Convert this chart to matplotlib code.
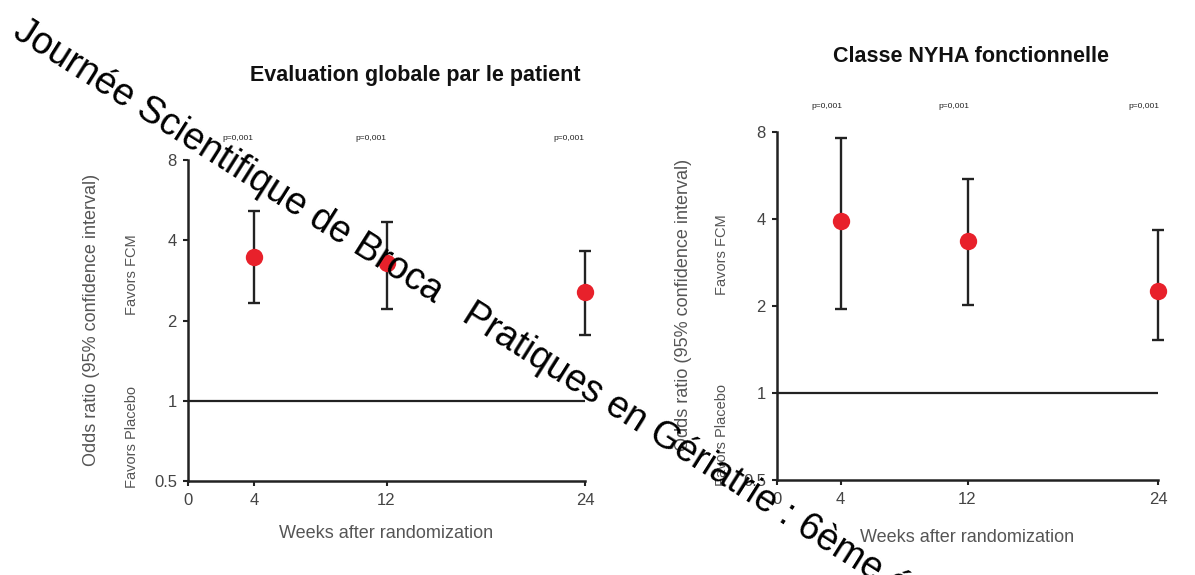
import numpy as np
import matplotlib.pyplot as plt

plt.rcParams['font.family'] = ['Liberation Sans', 'DejaVu Sans']

W, H = 1195, 575

weeks = [4, 12, 24]
p_labels = ["p=0,001", "p=0,001", "p=0,001"]

# Evaluation globale par le patient
eval_or = [3.45, 3.3, 2.55]
eval_lo = [2.32, 2.2, 1.77]
eval_hi = [5.15, 4.7, 3.65]

# Classe NYHA fonctionnelle
nyha_or = [3.95, 3.35, 2.25]
nyha_lo = [1.95, 2.02, 1.52]
nyha_hi = [7.6, 5.5, 3.65]

yticks = [0.5, 1, 2, 4, 8]
ytick_labels = ["0.5", "1", "2", "4", "8"]
xticks = [0, 4, 12, 24]

dark = "#222222"
grey = "#555555"
red = "#e8212b"


def px(x, y):
    # pixel position (from top-left) -> figure fraction
    return x / W, 1 - y / H


def panel(fig, x0, x1, ytop, ybot, title, title_xy, pval_y, pval_dx,
          yl_x, yl_y, fcm_x, fcm_y, plc_y, xl_y, vals, lo, hi):
    ax = fig.add_axes([x0 / W, 1 - ybot / H, (x1 - x0) / W, (ybot - ytop) / H])
    ax.set_yscale('log', base=2)
    ax.set_xlim(0, 24)
    ax.set_ylim(0.5, 8)
    vals = np.array(vals)
    err = np.array([vals - np.array(lo), np.array(hi) - vals])
    ax.errorbar(weeks, vals, yerr=err, fmt='none', ecolor=dark, elinewidth=1.7,
                capsize=4.5, capthick=1.7, clip_on=False, zorder=3)
    ax.plot(weeks, vals, 'o', color=red, ms=12.5, mec='none', clip_on=False, zorder=4)
    ax.axhline(1, color=dark, lw=1.6, zorder=2)
    for s in ['top', 'right']:
        ax.spines[s].set_visible(False)
    for s in ['left', 'bottom']:
        ax.spines[s].set_linewidth(1.8)
        ax.spines[s].set_color(dark)
    ax.set_yticks(yticks)
    ax.set_yticklabels(ytick_labels)
    ax.minorticks_off()
    ax.set_xticks(xticks)
    ax.set_xticklabels([str(t) for t in xticks])
    ax.tick_params(axis='both', direction='out', length=3.5, width=1.5, color=dark,
                   labelsize=12, labelcolor="#444444")
    ax.tick_params(axis='y', pad=4.5)
    ax.tick_params(axis='x', pad=5)

    fig.text(*px(*title_xy), title, ha='center', va='center', fontsize=15.5,
             fontweight='bold', color="#111111")
    for w, p in zip(weeks, p_labels):
        xp = x0 + (x1 - x0) * w / 24 - pval_dx
        fig.text(*px(xp, pval_y), p, ha='center', va='center', fontsize=6, color="#222222")
    fig.text(*px(yl_x, yl_y), "Odds ratio (95% confidence interval)", rotation=90,
             ha='center', va='center', fontsize=13, color=grey)
    fig.text(*px(fcm_x, fcm_y), "Favors FCM", rotation=90, ha='center', va='center',
             fontsize=10.5, color=grey)
    fig.text(*px(fcm_x, plc_y), "Favors Placebo", rotation=90, ha='center', va='center',
             fontsize=10.5, color=grey)
    fig.text(*px((x0 + x1) / 2, xl_y), "Weeks after randomization", ha='center',
             va='center', fontsize=13, color=grey)
    return ax


fig = plt.figure(figsize=(W / 100, H / 100), dpi=100)

panel(fig, 188, 585, 160, 481, "Evaluation globale par le patient", (415, 75),
      138, 16, 92, 320, 132, 275, 437, 533, eval_or, eval_lo, eval_hi)
panel(fig, 777, 1158, 132, 480, "Classe NYHA fonctionnelle", (971, 57),
      107, 14, 684, 305, 722, 255, 435, 538, nyha_or, nyha_lo, nyha_hi)

fig.text(*px(11, 36), "Journée Scientifique de Broca   Pratiques en Gériatrie : 6ème édition",
         rotation=-32.3, rotation_mode='anchor', ha='left', va='baseline',
         fontsize=27, color='black', zorder=10)

fig.savefig("out.png", dpi=100)
